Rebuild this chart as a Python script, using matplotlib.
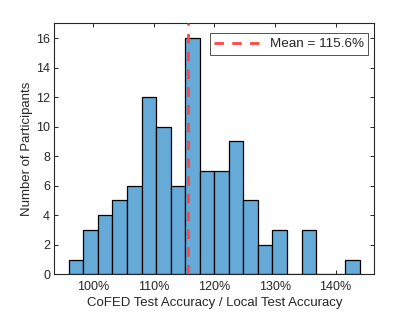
import matplotlib
matplotlib.use("Agg")
import matplotlib.pyplot as plt
import numpy as np

# Data
bin_start = 96.0
bin_width = 2.4
counts = [1, 3, 4, 5, 6, 12, 10, 6, 16, 7, 7, 9, 5, 2, 3, 0, 3, 0, 0, 1]
mean_value = 115.6
xtick_vals = [100, 110, 120, 130, 140]
ytick_vals = [0, 2, 4, 6, 8, 10, 12, 14, 16]

plt.rcParams['font.family'] = ['Liberation Sans', 'DejaVu Sans']
txt = '#262626'

fig = plt.figure(figsize=(4.15, 3.12), dpi=100)
ax = fig.add_axes([54.3/415, 1-274.3/312, (374.3-54.3)/415, (274.3-23.3)/312])

edges = bin_start + bin_width*np.arange(len(counts)+1)
ax.bar(edges[:-1], counts, width=bin_width, align='edge',
       color=(0.4, 0.668, 0.845), edgecolor='black', linewidth=0.9, zorder=2)
ax.axvline(mean_value, color='#FF4545', linestyle=(0, (3.4, 3.0)), linewidth=2.0,
           zorder=3, label=f'Mean = {mean_value}%')

ax.set_xlim(bin_start - bin_width, edges[-1] + bin_width)
ax.set_ylim(0, 17)
ax.set_xticks(xtick_vals)
ax.set_xticklabels([f'{v}%' for v in xtick_vals])
ax.set_yticks(ytick_vals)
ax.tick_params(direction='in', length=3, width=0.7, top=True, right=True,
               labelsize=9, colors=txt, labelcolor=txt)
ax.tick_params(axis='x', pad=5)
ax.tick_params(axis='y', pad=3)
for s in ax.spines.values():
    s.set_linewidth(0.8)
    s.set_color(txt)

ax.set_xlabel('CoFED Test Accuracy / Local Test Accuracy', fontsize=9.5, color=txt, labelpad=3)
ax.set_ylabel('Number of Participants', fontsize=9.5, color=txt, labelpad=2)

leg = ax.legend(loc='upper right', fontsize=9.7, frameon=True, fancybox=False,
                edgecolor=txt, handlelength=3.8, handletextpad=0.3, borderpad=0.35,
                borderaxespad=0, bbox_to_anchor=(0.981, 0.960), labelcolor=txt)
leg.get_frame().set_linewidth(0.7)

fig.savefig('out.png', dpi=100)
